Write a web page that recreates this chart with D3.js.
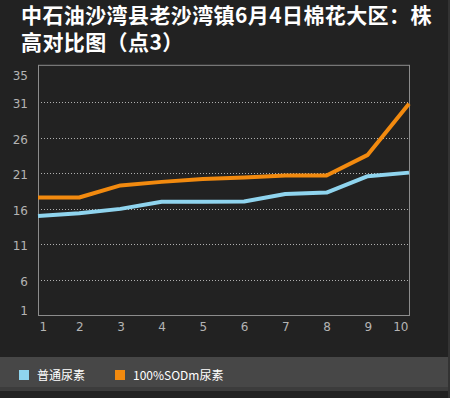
<!DOCTYPE html>
<html>
<head>
<meta charset="utf-8">
<script src="https://cdn.jsdelivr.net/npm/d3@7"></script>
<style>
  body { margin: 0; background: #222222; }
  svg { display: block; }
</style>
</head>
<body>
<svg id="chart"></svg>
<script>
      var titleLines = ["中石油沙湾县老沙湾镇6月4日棉花大区：株", "高对比图（点3）"];
      var points     = [1, 2, 3, 4, 5, 6, 7, 8, 9, 10];
      var yTicks     = [1, 6, 11, 16, 21, 26, 31, 35];
      var seriesNames  = ["普通尿素", "100%SODm尿素"];
      var seriesColors = ["#8fd4ee", "#f28a0f"];
      var normalUrea = [15.0, 15.4, 16.0, 17.0, 17.0, 17.05, 18.1, 18.3, 20.6, 21.1];
      var sodmUrea   = [17.6, 17.6, 19.3, 19.8, 20.2, 20.4, 20.7, 20.7, 23.6, 30.8];

      var svgWidth = 450, svgHeight = 398;
      var plot = {left: 38, right: 409, top: 65.3, bottom: 315.5};
      var bar = d3.select("#chart").attr("width", svgWidth).attr("height", svgHeight);

      bar.append("rect").attr("width", svgWidth).attr("height", svgHeight).style("fill", "#222222");

      // title
      bar.selectAll("text.title").data(titleLines).enter().append("text")
         .attr("class", "title")
         .attr("x", 21).attr("y", function(d, i) { return 23 + i * 27; })
         .text(function(d) { return d; })
         .style("font-family", "'Noto Sans CJK SC', sans-serif")
         .style("font-size", "21px").style("font-weight", "bold")
         .style("letter-spacing", "0.4px").style("fill", "#ffffff");

      var xScale = d3.scaleLinear().domain([1, 10]).range([plot.left, plot.right]);
      var yScale = d3.scaleLinear().domain([1, 36.2]).range([plot.bottom, plot.top]);

      // grid lines
      bar.append("g").selectAll("line").data(yTicks.filter(function(d) { return d > 1 && d < 35; }))
         .enter().append("line")
         .attr("x1", plot.left).attr("x2", plot.right)
         .attr("y1", function(d) { return Math.round(yScale(d)) + 0.5; })
         .attr("y2", function(d) { return Math.round(yScale(d)) + 0.5; })
         .style("stroke", "#b0b0b0").style("stroke-width", 1).style("stroke-dasharray", "1,2");

      // frame
      bar.append("rect")
         .attr("x", plot.left + 0.5).attr("y", plot.top)
         .attr("width", plot.right - plot.left).attr("height", plot.bottom - plot.top)
         .style("fill", "none").style("stroke", "#8c8c8c").style("stroke-width", 1);

      // y labels
      var yAxis = bar.append("g").attr("transform", "translate(" + plot.left + ",0)")
         .call(d3.axisLeft(yScale).tickValues(yTicks).tickSize(0).tickPadding(10));
      yAxis.select(".domain").remove();
      yAxis.selectAll("text")
         .attr("dy", function(d) { return d == 1 ? "-0.05em" : "0.45em"; })
         .style("font-family", "'DejaVu Sans', sans-serif").style("font-size", "12px").style("fill", "#b4b4b4");

      // x labels
      var xAxis = bar.append("g").attr("transform", "translate(0," + plot.bottom + ")")
         .call(d3.axisBottom(xScale).tickValues(points).tickFormat(d3.format("d")).tickSize(0).tickPadding(7));
      xAxis.select(".domain").remove();
      xAxis.selectAll("text")
         .attr("text-anchor", function(d) { return d == 1 ? "start" : (d == 10 ? "end" : "middle"); })
         .attr("dx", function(d) { return d == 1 ? 1 : (d == 10 ? -1 : 0); })
         .style("font-family", "'DejaVu Sans', sans-serif").style("font-size", "12px").style("fill", "#b4b4b4");

      // lines
      var line = d3.line()
         .x(function(d, i) { return xScale(points[i]); })
         .y(function(d) { return yScale(d); });
      [normalUrea, sodmUrea].forEach(function(s, k) {
        bar.append("path").datum(s).attr("d", line)
           .style("fill", "none").style("stroke", seriesColors[k])
           .style("stroke-width", 4).style("stroke-linejoin", "round");
      });

      // legend band
      bar.append("rect").attr("x", 0).attr("y", 357).attr("width", 448).attr("height", 30).style("fill", "#474747");
      bar.append("rect").attr("x", 0).attr("y", 387).attr("width", 448).attr("height", 4).style("fill", "#3c3c3c");
      bar.append("rect").attr("x", 448).attr("y", 0).attr("width", 2).attr("height", svgHeight).style("fill", "#333333");

      var legendX = [19, 115];
      seriesNames.forEach(function(name, k) {
        bar.append("rect").attr("x", legendX[k]).attr("y", 370).attr("width", 10).attr("height", 10)
           .style("fill", seriesColors[k]);
        bar.append("text").attr("x", legendX[k] + 18).attr("y", 379.5).text(name)
           .style("font-family", "'Noto Sans CJK SC', sans-serif").style("font-size", "12px").style("fill", "#ffffff");
      });
</script>
</body>
</html>
